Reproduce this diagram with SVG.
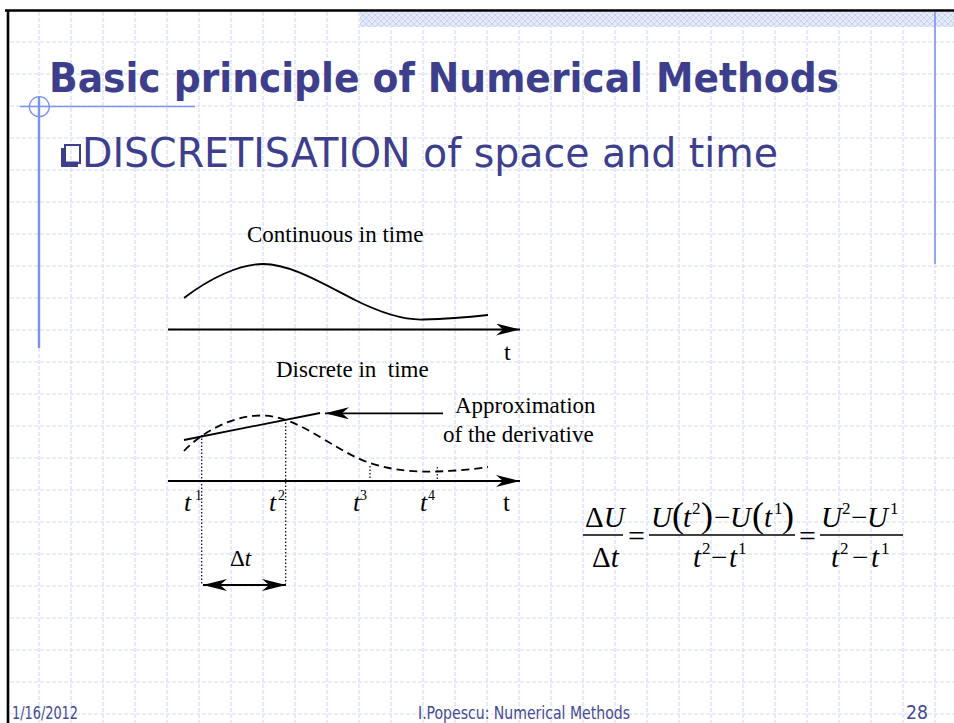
<svg xmlns="http://www.w3.org/2000/svg" width="954" height="723" viewBox="0 0 954 723">
<defs>
<style>
.grid{fill:none;stroke:#d2dbf8;stroke-width:1.2;stroke-dasharray:4 2}
.accent{fill:none;stroke:#7b93f0}
.title{font-family:"DejaVu Sans Condensed","DejaVu Sans",sans-serif;font-weight:bold;fill:#3d3f8c}
.sub{font-family:"DejaVu Sans Condensed","DejaVu Sans",sans-serif;fill:#3d3f8c}
.foot{font-family:"DejaVu Sans Condensed","DejaVu Sans",sans-serif;fill:#454a94}
.lbl{font-family:"Liberation Serif","Times New Roman",serif;fill:#000}
.it{font-style:italic}
.ln{fill:none;stroke:#000;stroke-width:1.8}
.dot{fill:none;stroke:#000;stroke-width:1.2;stroke-dasharray:1.5 2}
.dash{fill:none;stroke:#000;stroke-width:1.8;stroke-dasharray:8 5}
.bar{stroke:#000;stroke-width:1.3}
</style>
<pattern id="hatch" width="6" height="6" patternUnits="userSpaceOnUse">
<rect width="6" height="6" fill="#e6ebfa"/>
<path d="M0,0L6,6M6,0L0,6" stroke="#c8d1f1" stroke-width="1"/>
</pattern>
<marker id="ah" viewBox="0 0 24 12" refX="24" refY="6" markerWidth="24" markerHeight="12" markerUnits="userSpaceOnUse" orient="auto-start-reverse">
<path d="M0,0L24,6L0,12L7,6Z" fill="#000"/>
</marker>
</defs>

<g id="background">
<rect x="0" y="0" width="954" height="723" fill="#fff"/>
<path class="grid" d="M39 12V723M71 12V723M103 12V723M135 12V723M167 12V723M199 12V723M231 12V723M263 12V723M295 12V723M327 12V723M359 12V723M391 12V723M423 12V723M455 12V723M487 12V723M519 12V723M551 12V723M583 12V723M615 12V723M647 12V723M679 12V723M711 12V723M743 12V723M775 12V723M807 12V723M839 12V723M871 12V723M903 12V723M935 12V723"/>
<path class="grid" d="M10 42H954M10 74H954M10 106H954M10 138H954M10 170H954M10 202H954M10 234H954M10 266H954M10 298H954M10 330H954M10 362H954M10 394H954M10 426H954M10 458H954M10 490H954M10 522H954M10 554H954M10 586H954M10 618H954M10 650H954M10 682H954M10 714H954"/>
<rect x="360" y="12" width="594" height="15" fill="url(#hatch)"/>
<path d="M5 10.5H954M8 10V723" fill="none" stroke="#000" stroke-width="2.6"/>
<path class="accent" stroke-width="1.5" d="M20 106.5H195"/>
<circle class="accent" stroke-width="1.3" cx="39.3" cy="106.7" r="10"/>
<path class="accent" stroke-width="2.4" d="M39 97V348"/>
<path class="accent" stroke-width="1.6" d="M935 12V264"/>
</g>

<g id="title">
<text class="title" x="49" y="92" font-size="40" textLength="790" lengthAdjust="spacingAndGlyphs">Basic principle of Numerical Methods</text>
</g>

<g id="subtitle">
<rect x="65" y="145" width="15" height="18" fill="none" stroke="#3d3f8c" stroke-width="2"/>
<path d="M61 148H65.5V161.5H78V167H61Z" fill="#3d3f8c"/>
<text class="sub" x="82" y="167" font-size="41" textLength="696" lengthAdjust="spacingAndGlyphs">DISCRETISATION of space and time</text>
</g>

<g id="continuous">
<text class="lbl" x="247" y="242" font-size="23">Continuous in time</text>
<path class="ln" d="M184,298 C210,278 240,264 263,264 C290,264 320,282 355,300 C385,315 405,320 423,319.5 C445,319 470,317 488,315"/>
<text class="lbl" x="504" y="360" font-size="24">t</text>
</g>

<g id="discrete">
<text class="lbl" x="276" y="377" font-size="23" xml:space="preserve">Discrete in  time</text>
<path class="dash" d="M184,451 C200,434 230,416 260,415.5 C280,415 300,425 320,437 C340,449 355,458 370,463 C395,471 415,472 437,471.5 C455,471 475,469 488,467"/>
<path class="ln" d="M184,440 L320,413"/>
<path class="dot" d="M201.7,435V584M285.7,419V584M370,466V481M437.3,467V481"/>
<text class="lbl" x="184" y="511" font-size="26"><tspan class="it">t</tspan><tspan x="195" y="500" font-size="14">1</tspan></text>
<text class="lbl" x="269" y="511" font-size="26"><tspan class="it">t</tspan><tspan x="278" y="500" font-size="14">2</tspan></text>
<text class="lbl" x="353" y="511" font-size="26"><tspan class="it">t</tspan><tspan x="360" y="500" font-size="14">3</tspan></text>
<text class="lbl" x="420" y="511" font-size="26"><tspan class="it">t</tspan><tspan x="428" y="500" font-size="14">4</tspan></text>
<text class="lbl" x="503" y="511" font-size="25">t</text>
<text class="lbl" x="230" y="566" font-size="23">Δ<tspan class="it">t</tspan></text>
</g>

<g id="approximation">
<text class="lbl" x="455" y="413" font-size="23">Approximation</text>
<text class="lbl" x="443" y="442" font-size="23">of the derivative</text>
</g>

<g id="connectors">
<path class="ln" d="M168,329.5H520" marker-end="url(#ah)"/>
<path class="ln" d="M168,481H520" marker-end="url(#ah)"/>
<path class="ln" d="M443,413.3H325" marker-end="url(#ah)"/>
<path class="ln" d="M203,585H286" marker-start="url(#ah)" marker-end="url(#ah)"/>
</g>

<g id="equation" class="lbl">
<text x="585" y="527" font-size="29">Δ<tspan class="it">U</tspan></text>
<line class="bar" x1="583" y1="535" x2="623" y2="535"/>
<text x="592" y="567" font-size="29">Δ<tspan class="it">t</tspan></text>
<text x="628" y="546" font-size="30">=</text>
<text x="651" y="527" font-size="29"><tspan class="it">U</tspan><tspan x="672" font-size="36">(</tspan><tspan class="it" x="683">t</tspan><tspan x="692" y="514" font-size="17">2</tspan><tspan x="701" y="527" font-size="36">)</tspan><tspan x="714">−</tspan><tspan class="it" x="730">U</tspan><tspan x="752" font-size="36">(</tspan><tspan class="it" x="764">t</tspan><tspan x="774" y="514" font-size="17">1</tspan><tspan x="782" y="527" font-size="36">)</tspan></text>
<line class="bar" x1="649" y1="535" x2="795" y2="535"/>
<text x="693" y="567" font-size="29"><tspan class="it">t</tspan><tspan x="702" y="554" font-size="17">2</tspan><tspan x="711" y="567">−</tspan><tspan class="it" x="729">t</tspan><tspan x="738" y="554" font-size="17">1</tspan></text>
<text x="799" y="546" font-size="30">=</text>
<text x="821" y="527" font-size="29"><tspan class="it">U</tspan><tspan x="842" y="514" font-size="17">2</tspan><tspan x="851" y="527">−</tspan><tspan class="it" x="867">U</tspan><tspan x="890" y="514" font-size="17">1</tspan></text>
<line class="bar" x1="820" y1="535" x2="903" y2="535"/>
<text x="831" y="567" font-size="29"><tspan class="it">t</tspan><tspan x="840" y="554" font-size="17">2</tspan><tspan x="852" y="567">−</tspan><tspan class="it" x="871">t</tspan><tspan x="881" y="554" font-size="17">1</tspan></text>
</g>

<g id="footer">
<text class="foot" x="12" y="719" font-size="17" textLength="66" lengthAdjust="spacingAndGlyphs">1/16/2012</text>
<text class="foot" x="418" y="719" font-size="17" textLength="212" lengthAdjust="spacingAndGlyphs">I.Popescu: Numerical Methods</text>
<text class="foot" x="906" y="719" font-size="19" textLength="22" lengthAdjust="spacingAndGlyphs">28</text>
</g>
</svg>
